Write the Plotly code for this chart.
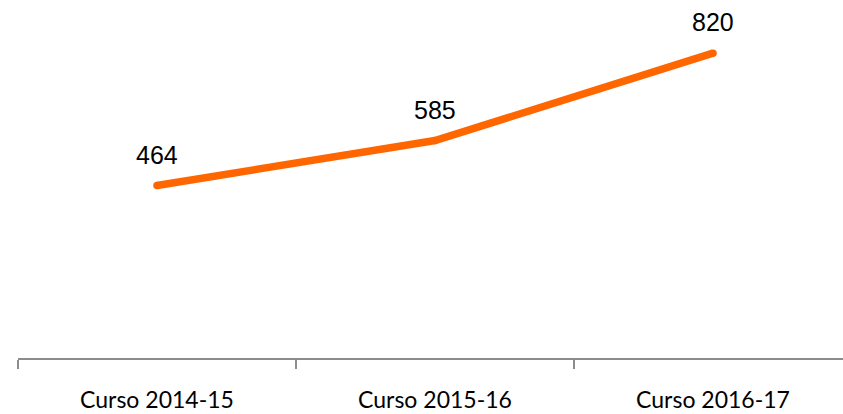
import plotly.graph_objects as go

categories = ["Curso 2014-15", "Curso 2015-16", "Curso 2016-17"]
values = [464, 585, 820]
labels = ["464", "585", "820"]

orange = "#FF6600"

fig = go.Figure()
fig.add_trace(go.Scatter(
    x=categories, y=values, mode="lines+markers",
    line=dict(color=orange, width=7.5),
    marker=dict(color=orange, size=7.5),
    hoverinfo="skip", showlegend=False,
))

for c, v, t in zip(categories, values, labels):
    fig.add_annotation(x=c, y=v, text=t, showarrow=False, yshift=31,
                       font=dict(family="Liberation Sans, Arial", size=25, color="#000000"))

fig.update_layout(
    width=843, height=414,
    margin=dict(l=18, r=0, t=0, b=56),
    paper_bgcolor="white", plot_bgcolor="white",
    xaxis=dict(
        type="category", range=[-0.5, 2.4676],
        showgrid=False, zeroline=False,
        showline=True, linecolor="#8c8c8c", linewidth=1.5,
        ticks="outside", tickson="boundaries", ticklen=9, tickcolor="#8c8c8c", tickwidth=1.5,
        ticklabelstandoff=21,
        tickfont=dict(family="Lato, Open Sans", size=23, color="#000000"),
    ),
    yaxis=dict(range=[0, 963], visible=False),
)

fig.write_html("out.html", config={"displayModeBar": False},
               post_script="document.body.style.margin='0';document.body.style.overflow='hidden';")
